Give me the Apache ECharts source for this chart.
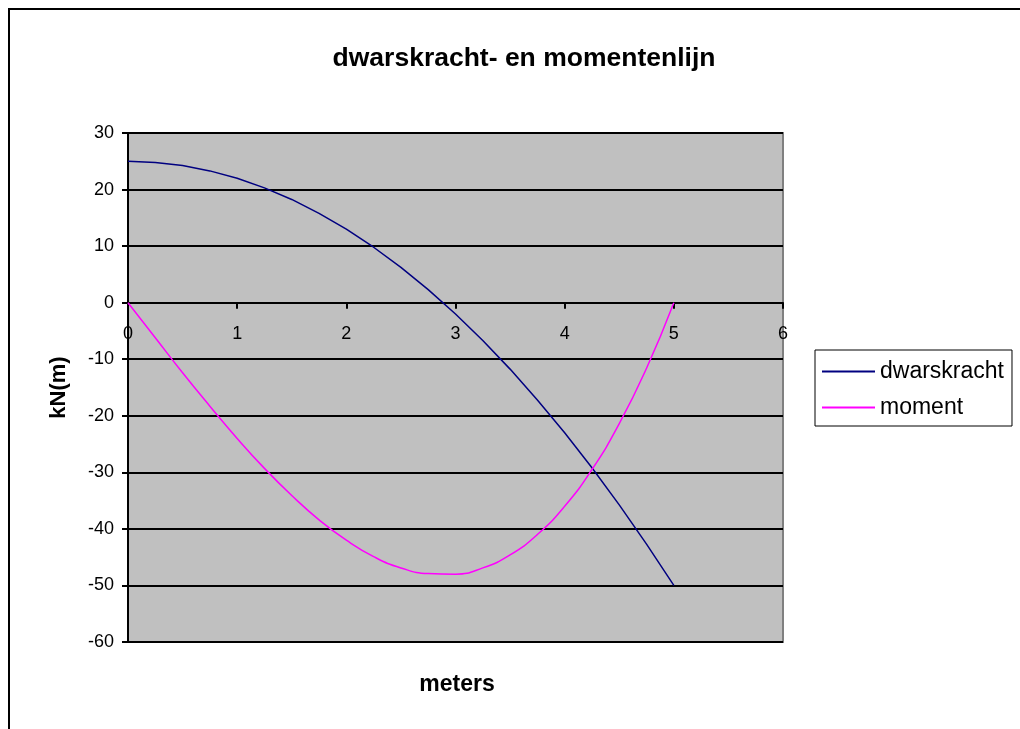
<!DOCTYPE html>
<html>
<head>
<meta charset="utf-8">
<title>dwarskracht- en momentenlijn</title>
<script src="https://cdn.jsdelivr.net/npm/echarts@6/dist/echarts.min.js"></script>
<style>
  html, body { margin: 0; padding: 0; background: #fff; }
  #chart { width: 1020px; height: 729px; }
</style>
</head>
<body>
<div id="chart"></div>
<script>
// x positions in meters
var meters = [0, 0.25, 0.5, 0.75, 1, 1.25, 1.5, 1.75, 2, 2.25, 2.5, 2.75, 3, 3.25, 3.5, 3.75, 4, 4.25, 4.5, 4.75, 5];
// values
var dwarskracht = [25, 24.8, 24.25, 23.3, 22, 20.3, 18.25, 15.8, 13, 9.8, 6.25, 2.3, -2, -6.7, -11.75, -17.2, -23, -29.2, -35.75, -42.7, -50];
var moment = [0, -6.2, -12.4, -18.3, -24, -29.3, -34.1, -38.4, -42, -44.9, -46.9, -47.9, -48, -46.9, -44.6, -41, -36, -29.5, -21.4, -11.6, 0];
var seriesNames = ['dwarskracht', 'moment'];
var yTicks = { min: -60, max: 30, step: 10 };
var xTicks = { min: 0, max: 6, step: 1 };

var font = "'Liberation Sans', Arial, sans-serif";

function pairs(xs, ys) {
    var out = [];
    for (var i = 0; i < xs.length; i++) {
        out.push([xs[i], ys[i]]);
    }
    return out;
}

// grid box
var gridTop = 133, gridHeight = 509;
// move the x axis up to y = 0 (labels follow it)
var zeroOffset = -gridHeight * (0 - yTicks.min) / (yTicks.max - yTicks.min);

var option = {
    animation: false,
    backgroundColor: '#fff',
    title: {
        text: 'dwarskracht- en momentenlijn',
        left: 519,
        top: 40,
        textAlign: 'center',
        textStyle: { fontFamily: font, fontSize: 26.5, fontWeight: 'bold', color: '#000' }
    },
    legend: {
        data: seriesNames,
        orient: 'vertical',
        left: 815,
        top: 350,
        padding: [10, 8, 7, 7],
        itemGap: 13,
        itemWidth: 53,
        itemHeight: 2,
        icon: 'rect',
        borderColor: '#000',
        borderWidth: 1,
        textStyle: { fontFamily: font, fontSize: 23, color: '#000' }
    },
    grid: {
        left: 128,
        top: gridTop,
        width: 655,
        height: gridHeight,
        show: true,
        backgroundColor: '#c0c0c0',
        borderColor: '#808080',
        borderWidth: 2
    },
    xAxis: {
        type: 'value',
        min: xTicks.min,
        max: xTicks.max,
        interval: xTicks.step,
        offset: zeroOffset,
        axisLine: { onZero: false, lineStyle: { color: '#000', width: 2 } },
        axisTick: { show: true, length: 6, lineStyle: { color: '#000', width: 2 } },
        axisLabel: { margin: 22, fontFamily: font, fontSize: 18, color: '#000' },
        splitLine: { show: false }
    },
    yAxis: {
        type: 'value',
        min: yTicks.min,
        max: yTicks.max,
        interval: yTicks.step,
        name: 'kN(m)',
        nameLocation: 'middle',
        nameGap: 58,
        nameTextStyle: { fontFamily: font, fontSize: 22, fontWeight: 'bold', color: '#000' },
        axisLine: { show: true, lineStyle: { color: '#000', width: 2 } },
        axisTick: { show: true, length: 6, lineStyle: { color: '#000', width: 2 } },
        axisLabel: { margin: 14, fontFamily: font, fontSize: 18, color: '#000' },
        splitLine: { show: true, lineStyle: { color: '#000', width: 2 } }
    },
    graphic: [
        {
            type: 'rect',
            shape: { x: 9, y: 9, width: 1040, height: 760 },
            style: { fill: 'none', stroke: '#000', lineWidth: 2 },
            silent: true
        },
        {
            type: 'text',
            x: 457,
            y: 685,
            style: {
                text: 'meters',
                font: 'bold 23px ' + font,
                fill: '#000',
                textAlign: 'center',
                textVerticalAlign: 'middle'
            }
        }
    ],
    series: [
        {
            name: seriesNames[0],
            type: 'line',
            data: pairs(meters, dwarskracht),
            symbol: 'none',
            color: '#000080',
            lineStyle: { color: '#000080', width: 1.5 }
        },
        {
            name: seriesNames[1],
            type: 'line',
            smooth: true,
            data: pairs(meters, moment),
            symbol: 'none',
            color: '#ff00ff',
            lineStyle: { color: '#ff00ff', width: 1.5 }
        }
    ]
};

echarts.init(document.getElementById('chart')).setOption(option);
</script>
</body>
</html>
